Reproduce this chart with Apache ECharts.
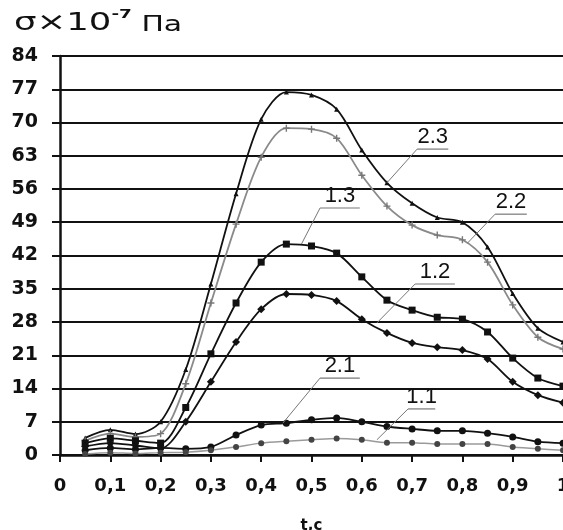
<!DOCTYPE html>
<html><head><meta charset="utf-8">
<script src="https://cdn.jsdelivr.net/npm/echarts@6/dist/echarts.min.js"></script>
<style>html,body{margin:0;padding:0;background:#fff}#c{width:563px;height:530px}</style>
</head><body><div id="c"></div>
<script>
// time, s
const tValues = [0.05,0.1,0.15,0.2,0.25,0.3,0.35,0.4,0.45,0.5,0.55,0.6,0.65,0.7,0.75,0.8,0.85,0.9,0.95,1.0];
// σ×10^-7 Па
const s23 = [3.6,5.3,4.4,7.0,18,36,55,70.7,76.4,75.8,72.8,64.2,57.3,53,50,49,43.8,34,26.7,23.8];
const s22 = [3.0,4.5,3.8,4.5,15,32,48.6,62.7,68.8,68.6,66.7,58.9,52.4,48.4,46.3,45.3,40.6,31.6,24.8,22.3];
const s13 = [2.5,3.5,3.0,2.5,10,21.3,32,40.6,44.4,44,42.5,37.5,32.6,30.5,29,28.6,25.9,20.4,16.2,14.5];
const s12 = [1.8,2.5,2.0,1.4,7,15.4,23.8,30.7,33.9,33.7,32.4,28.6,25.7,23.6,22.7,22.1,20.2,15.4,12.6,11];
const s21 = [1.0,1.5,1.2,1.5,1.3,1.7,4.2,6.3,6.7,7.4,7.8,7.0,6.0,5.5,5.1,5.1,4.6,3.8,2.8,2.5];
const s11 = [0.2,0.5,0.3,0.5,0.6,1.0,1.7,2.5,2.9,3.2,3.5,3.2,2.6,2.6,2.3,2.3,2.3,1.7,1.3,1.0];

// annotation labels (data coordinates)
const annLabels   = ['2.3','2.2','1.3','1.2','2.1','1.1'];
const annUnderT0  = [0.71,0.865,0.517,0.706,0.517,0.692];
const annUnderT1  = [0.772,0.928,0.596,0.785,0.596,0.746];
const annUnderV   = [64.4,50.7,52,36,16.2,9.7];
const annTargetT  = [0.65,0.81,0.48,0.63,0.443,0.63];
const annTargetV  = [57.3,44.6,44.4,27.8,6.7,3.2];

const xTicks = {min:0, max:1, interval:0.1};
const yTicks = {min:0, max:84, interval:7};

const pair = arr => tValues.map((t,i)=>[t, arr[i]]);
const plusPath = 'path://M4,0L6,0L6,4L10,4L10,6L6,6L6,10L4,10L4,6L0,6L0,4L4,4Z';

function lineSeries(name, arr, color, lw, symbol, size, symColor){
  return {
    name, type:'line', data: pair(arr), smooth:0.3,
    symbol, symbolSize:size,
    lineStyle:{color, width:lw},
    itemStyle:{color: symColor || color},
    z: 5
  };
}

const annData = annLabels.map((l,i)=>[annUnderT0[i], annUnderV[i], annUnderT1[i], annTargetT[i], annTargetV[i]]);

const chart = echarts.init(document.getElementById('c'));
chart.setOption({
  animation:false,
  backgroundColor:'#fff',
  grid:{left:60, right:0, top:56, bottom:75, containLabel:false, outerBoundsMode:'none'},
  graphic:[{
    type:'text', x:14, y:6, scaleX:1.42, scaleY:1,
    style:{
      text:'{a|σ×10}{s|-7}{b| Па}',
      fill:'#111',
      rich:{
        a:{fontFamily:'DejaVu Sans', fontSize:25, lineHeight:30, verticalAlign:'bottom', fill:'#111'},
        s:{fontFamily:'DejaVu Sans', fontSize:13, fontWeight:'bold', lineHeight:30, verticalAlign:'top', fill:'#111', padding:[2,0,0,0]},
        b:{fontFamily:'DejaVu Sans', fontSize:21, lineHeight:30, verticalAlign:'bottom', fill:'#111'}
      }
    }
  }],
  xAxis:{
    type:'value', min:xTicks.min, max:xTicks.max, interval:xTicks.interval,
    name:'t,c', nameLocation:'middle', nameGap:64,
    nameTextStyle:{fontFamily:'DejaVu Sans', fontWeight:'bold', fontSize:15, color:'#111'},
    axisLine:{show:true, onZero:false, lineStyle:{color:'#111', width:2.5}},
    axisTick:{show:true, length:7, lineStyle:{color:'#111', width:2}},
    splitLine:{show:false},
    axisLabel:{
      margin:22, color:'#111', fontFamily:'DejaVu Sans', fontWeight:'bold', fontSize:18,
      formatter:v=>{ if (Math.abs(v)<1e-9) return '0'; if (Math.abs(v-1)<1e-9) return '1'; return v.toFixed(1).replace('.',','); }
    }
  },
  yAxis:{
    type:'value', min:yTicks.min, max:yTicks.max, interval:yTicks.interval,
    axisLine:{show:true, lineStyle:{color:'#111', width:2.5}},
    axisTick:{show:true, length:8, lineStyle:{color:'#111', width:2}},
    splitLine:{show:true, lineStyle:{color:'#111', width:2}},
    axisLabel:{margin:22, color:'#111', fontFamily:'DejaVu Sans', fontWeight:'bold', fontSize:19}
  },
  series:[
    lineSeries('2.3', s23, '#111', 1.8, 'triangle', 5),
    lineSeries('2.2', s22, '#8a8a8a', 1.8, plusPath, 7, '#777'),
    lineSeries('1.3', s13, '#111', 1.8, 'rect', 7),
    lineSeries('1.2', s12, '#111', 1.8, 'diamond', 8),
    lineSeries('2.1', s21, '#111', 1.8, 'circle', 7),
    lineSeries('1.1', s11, '#9a9a9a', 1.5, 'circle', 6, '#444'),
    {
      type:'custom', coordinateSystem:'cartesian2d', data:annData, z:10, silent:true, clip:false,
      renderItem:(params, api)=>{
        const i = params.dataIndex;
        const u0 = api.coord([api.value(0), api.value(1)]);
        const u1 = api.coord([api.value(2), api.value(1)]);
        const tg = api.coord([api.value(3), api.value(4)]);
        return {type:'group', children:[
          {type:'line', shape:{x1:u0[0],y1:u0[1],x2:u1[0],y2:u1[1]}, style:{stroke:'#777', lineWidth:1.2}},
          {type:'line', shape:{x1:u0[0],y1:u0[1],x2:tg[0],y2:tg[1]}, style:{stroke:'#777', lineWidth:1}},
          {type:'text', style:{text:annLabels[i], x:(u0[0]+u1[0])/2, y:u0[1]-1,
            align:'center', verticalAlign:'bottom', textAlign:'center', textVerticalAlign:'bottom',
            font:'22px "Liberation Sans"', fill:'#111'}}
        ]};
      }
    }
  ]
});
</script></body></html>
